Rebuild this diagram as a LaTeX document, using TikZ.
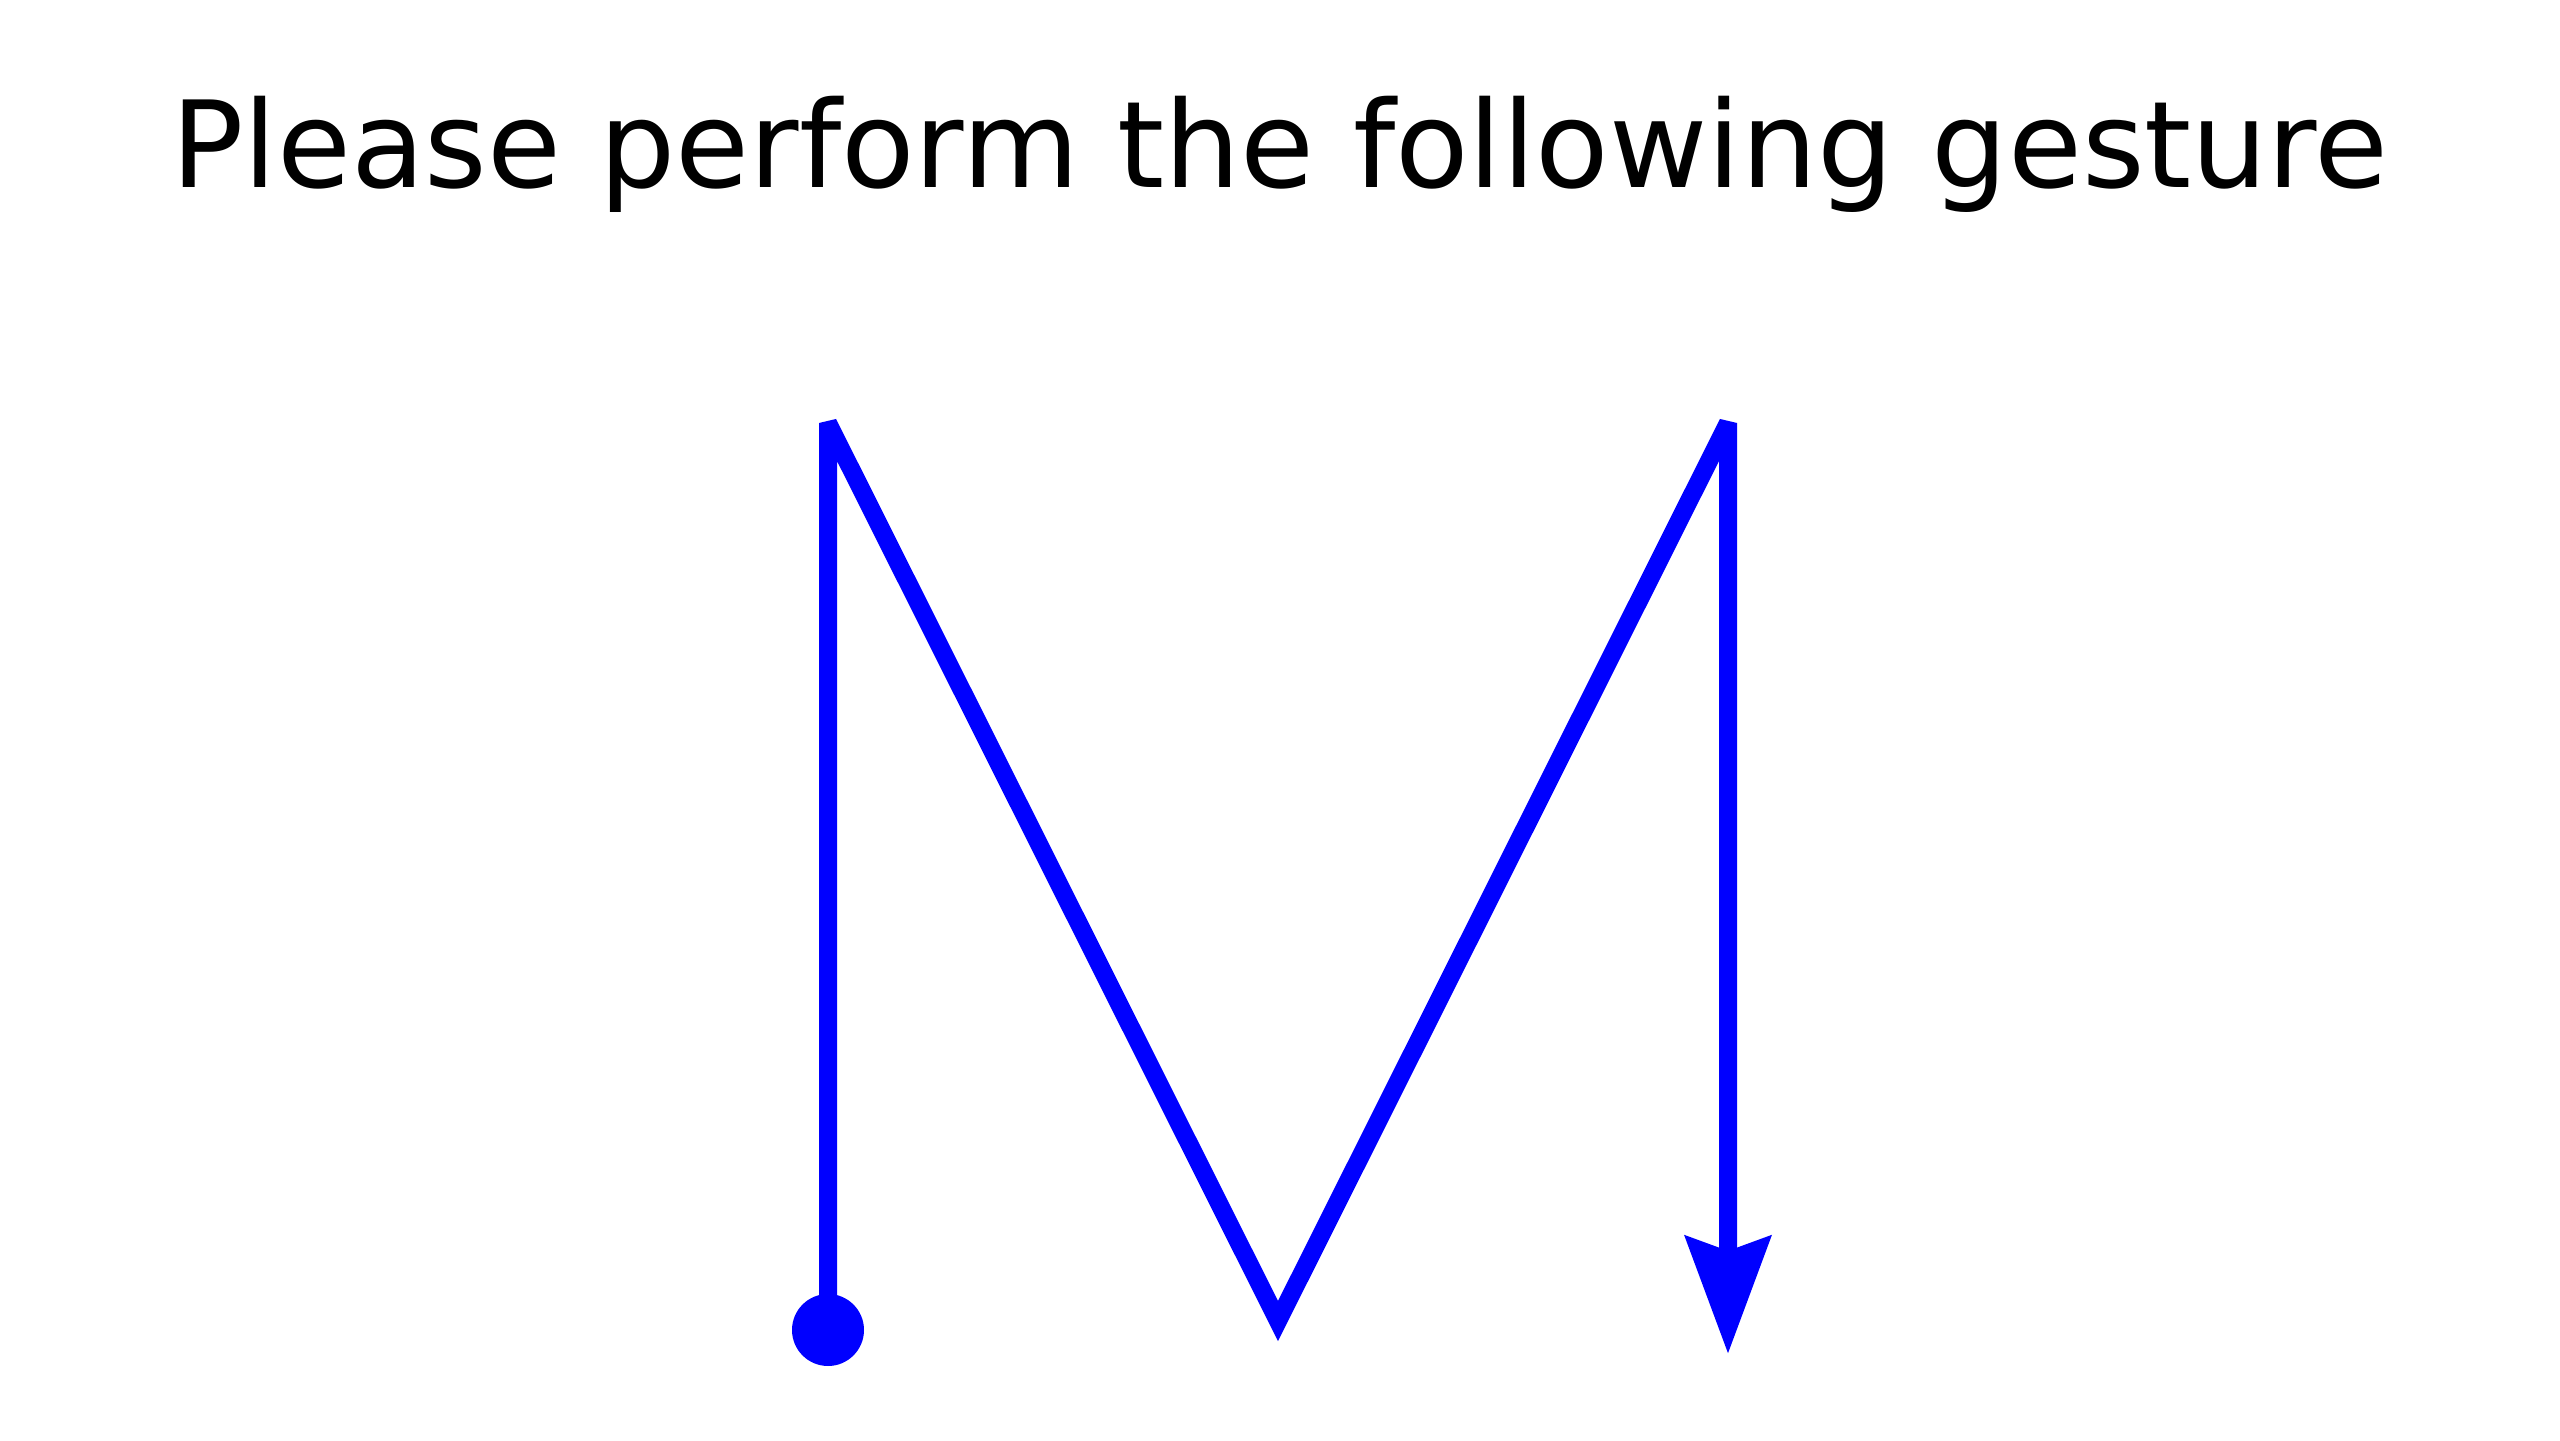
\documentclass[tikz,border=0pt]{standalone}
\usepackage{fontspec}
\setmainfont{DejaVu Sans}
\usetikzlibrary{arrows.meta}
\definecolor{gblue}{RGB}{0,0,255}
\tikzset{
  % Gesture stroke
  GPath/.style={draw=gblue,line width=0.18cm,miter limit=4,
                -{Stealth[length=1.17cm,width=0.84cm,inset=0.14cm]}},
  % Start dot
  SDot/.style={circle,fill=gblue,minimum size=0.72cm,inner sep=0pt},
  % Title text
  Ttl/.style={anchor=base,font=\fontsize{34.2}{40}\selectfont},
}
\begin{document}
\begin{tikzpicture}
  \useasboundingbox (0,0) rectangle (25.6,14.4);
  % Title
  \node[Ttl] at (12.80,12.52) (title) {Please perform the following gesture};
  % Corners of the gesture
  \coordinate (start) at ( 8.28, 1.10);
  \coordinate (tl)    at ( 8.28,10.17);
  \coordinate (vb)    at (12.78, 1.19);
  \coordinate (tr)    at (17.28,10.17);
  \coordinate (fin)   at (17.28, 0.86);
  \draw[GPath] (start) -- (tl) -- (vb) -- (tr) -- (fin);
  % Start marker
  \node[SDot] at (start) (dot) {};
\end{tikzpicture}
\end{document}
